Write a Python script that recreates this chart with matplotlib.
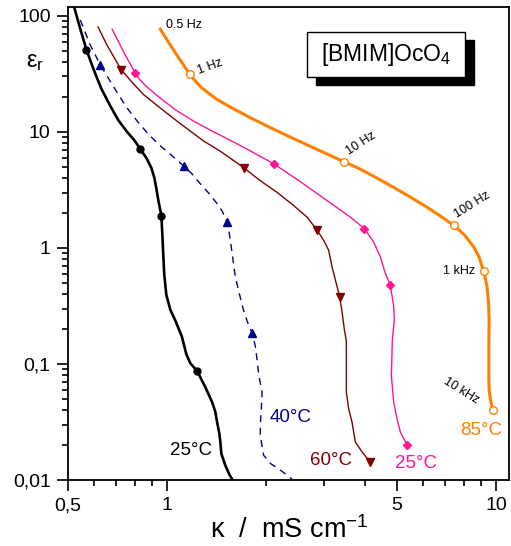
import matplotlib
matplotlib.use('Agg')
import matplotlib.pyplot as plt
from matplotlib.ticker import FixedLocator, FixedFormatter, NullFormatter, LogLocator
from matplotlib.patches import Rectangle

plt.rcParams['font.family'] = ['Liberation Sans', 'DejaVu Sans']
plt.rcParams['mathtext.fontset'] = 'custom'
plt.rcParams['mathtext.rm'] = 'Liberation Sans'
plt.rcParams['mathtext.default'] = 'regular'

# ---------------- data ----------------
# 25 °C (black)
black_x = [0.519, 0.545, 0.569, 0.597, 0.631, 0.673, 0.711, 0.757, 0.795, 0.829, 0.865, 0.896, 0.915, 0.928,
           0.941, 0.961, 0.968, 0.974, 0.981, 0.995, 1.023, 1.060, 1.109, 1.145, 1.177, 1.234, 1.307, 1.370,
           1.402, 1.419, 1.442, 1.452, 1.462, 1.504, 1.546, 1.590]
black_y = [126, 76.9, 50.9, 35.0, 23.6, 16.6, 12.6, 9.94, 8.49, 7.11, 5.96, 4.90, 4.02, 3.24,
           2.56, 1.90, 1.284, 0.866, 0.584, 0.394, 0.2935, 0.2363, 0.1725, 0.121, 0.1014, 0.0871, 0.0632, 0.0471,
           0.0387, 0.0317, 0.0251, 0.0214, 0.0169, 0.01335, 0.01119, 0.00975]
black_mx = [0.569, 0.829, 0.961, 1.234]
black_my = [50.9, 7.11, 1.90, 0.0871]

# 40 °C (navy, dashed)
blue_x = [0.545, 0.5845, 0.627, 0.673, 0.711, 0.756, 0.812, 0.879, 0.947, 1.023, 1.123, 1.194, 1.262, 1.335,
          1.419, 1.473, 1.522, 1.546, 1.568, 1.590, 1.613, 1.659, 1.706, 1.754, 1.813, 1.855, 1.877, 1.901,
          1.945, 1.935, 1.921, 1.921, 1.966, 2.061, 2.194, 2.321, 2.420]
blue_y = [91.9, 55.8, 37.7, 27.1, 21.0, 16.04, 12.35, 9.50, 7.70, 6.41, 5.09, 4.31, 3.57, 2.99,
          2.41, 2.06, 1.668, 1.336, 1.014, 0.755, 0.562, 0.402, 0.2935, 0.2317, 0.1855, 0.1425, 0.1097, 0.080,
          0.0569, 0.0410, 0.0305, 0.0241, 0.01636, 0.01389, 0.01235, 0.01097, 0.00994]
blue_mx = [0.627, 1.123, 1.522, 1.813]
blue_my = [37.7, 5.09, 1.668, 0.1855]

# 60 °C (dark red)
red_x = [0.617, 0.657, 0.726, 0.784, 0.849, 0.954, 1.073, 1.292, 1.452, 1.709, 1.921, 2.160, 2.425, 2.664,
         2.857, 2.992, 3.099, 3.173, 3.248, 3.346, 3.403, 3.459, 3.508, 3.508, 3.565, 3.650, 3.735, 3.914, 4.149]
red_y = [80.0, 55.8, 34.2, 26.6, 20.9, 16.04, 12.35, 8.33, 6.80, 4.92, 3.79, 3.01, 2.317, 1.841,
         1.425, 1.164, 0.956, 0.688, 0.530, 0.381, 0.282, 0.198, 0.1563, 0.0573, 0.0410, 0.0315, 0.0213, 0.01748, 0.01417]
red_mx = [0.726, 1.709, 2.857, 3.346, 4.149]
red_my = [34.2, 4.92, 1.425, 0.381, 0.01417]

# 25 °C (pink)
pink_x = [0.681, 0.738, 0.801, 0.829, 0.865, 0.954, 1.067, 1.205, 1.382, 1.594, 1.833, 2.119, 2.542, 3.064, 3.607,
          3.98, 4.246, 4.449, 4.608, 4.77, 4.886, 4.909, 4.84, 4.807, 4.886, 5.00, 5.119, 5.36]
pink_y = [76.5, 48.9, 31.9, 27.9, 24.6, 19.5, 15.3, 12.35, 10.04, 8.17, 6.61, 5.27, 3.72, 2.557, 1.841,
          1.465, 1.125, 0.838, 0.604, 0.480, 0.313, 0.241, 0.1626, 0.0789, 0.0468, 0.0337, 0.0259, 0.0202]
pink_mx = [0.801, 2.119, 3.98, 4.77, 5.36]
pink_my = [31.9, 5.27, 1.465, 0.480, 0.0202]

# 85 °C (orange)
orange_x = [0.954, 1.009, 1.067, 1.121, 1.171, 1.219, 1.271, 1.335, 1.412, 1.504, 1.613, 1.791, 2.061, 2.371,
            2.857, 3.459, 3.869, 4.327, 4.886, 5.49, 6.17, 6.77, 7.43, 8.01, 8.55, 8.87, 9.17, 9.39, 9.49,
            9.53, 9.51, 9.51, 9.54, 9.656, 9.77]
orange_y = [76.5, 59.6, 46.6, 37.9, 31.4, 27.4, 24.1, 21.6, 19.2, 17.25, 15.48, 13.22, 10.86, 9.01,
            7.05, 5.51, 4.77, 4.02, 3.32, 2.74, 2.24, 1.884, 1.563, 1.297, 1.02, 0.841, 0.632, 0.464, 0.335,
            0.241, 0.1425, 0.074, 0.0569, 0.0468, 0.0402]
orange_mx = [1.171, 3.459, 7.43, 9.17, 9.77]
orange_my = [31.4, 5.51, 1.563, 0.632, 0.0402]

freq_labels = ["0.5 Hz", "1 Hz", "10 Hz", "100 Hz", "1 kHz", "10 kHz"]
temp_labels = ["25°C", "40°C", "60°C", "25°C", "85°C"]

x_ticks = [0.5, 1, 5, 10]
x_tick_labels = ["0,5", "1", "5", "10"]
x_minor = [0.6, 0.7, 0.8, 0.9, 2, 3, 4, 6, 7, 8, 9]
y_ticks = [0.01, 0.1, 1, 10, 100]
y_tick_labels = ["0,01", "0,1", "1", "10", "100"]

# ---------------- figure ----------------
fig = plt.figure(figsize=(5.11, 5.46), dpi=100)
ax = fig.add_axes([68/511, 66/546, 441/511, 473/546])
ax.set_xscale('log')
ax.set_yscale('log')
ax.set_xlim(0.5, 10.95)
ax.set_ylim(0.01, 119)

c_black, c_blue, c_red, c_pink, c_orange = '#000000', '#000088', '#800000', '#FF1493', '#FF8000'

ax.plot(black_x, black_y, color=c_black, lw=1.9, zorder=3, solid_joinstyle='round')
ax.plot(black_mx, black_my, 'o', color=c_black, ms=5, zorder=4)

ax.plot(blue_x, blue_y, color=c_blue, lw=1.0, dashes=(5, 4), zorder=3)
ax.plot(blue_mx, blue_my, '^', color=c_blue, ms=6, zorder=4)

ax.plot(red_x, red_y, color=c_red, lw=1.0, zorder=3, solid_joinstyle='round')
ax.plot(red_mx, red_my, 'v', color=c_red, ms=6, zorder=4)

ax.plot(pink_x, pink_y, color=c_pink, lw=1.0, zorder=3, solid_joinstyle='round')
ax.plot(pink_mx, pink_my, 'D', color=c_pink, ms=4.5, zorder=4)

ax.plot(orange_x, orange_y, color=c_orange, lw=2.2, zorder=3, solid_joinstyle='round')
ax.plot(orange_mx, orange_my, 'o', mfc='white', mec=c_orange, mew=1.0, ms=5.5, zorder=4)

# frequency annotations
fs_f = 9
ax.text(0.99, 78, freq_labels[0], fontsize=fs_f, ha='left', va='baseline')
ax.text(1.354, 36.4, freq_labels[1], fontsize=fs_f, ha='center', va='center', rotation=20)
ax.text(3.90, 8.0, freq_labels[2], fontsize=fs_f, ha='center', va='center', rotation=33)
ax.text(8.47, 2.36, freq_labels[3], fontsize=fs_f, ha='center', va='center', rotation=32)
ax.text(8.65, 0.632, freq_labels[4], fontsize=fs_f, ha='right', va='center')
ax.text(7.84, 0.0584, freq_labels[5], fontsize=fs_f, ha='center', va='center', rotation=-32)

# temperature labels
fs_t = 13.5
ax.text(1.185, 0.0179, temp_labels[0], color=c_black, fontsize=fs_t, ha='center', va='center')
ax.text(2.371, 0.0344, temp_labels[1], color=c_blue, fontsize=fs_t, ha='center', va='center')
ax.text(3.158, 0.0147, temp_labels[2], color=c_red, fontsize=fs_t, ha='center', va='center')
ax.text(5.73, 0.0139, temp_labels[3], color=c_pink, fontsize=fs_t, ha='center', va='center')
ax.text(9.02, 0.0266, temp_labels[4], color=c_orange, fontsize=fs_t, ha='center', va='center')

# title box with shadow
ax.add_patch(Rectangle((0.562, 0.835), 0.358, 0.095, transform=ax.transAxes,
                       facecolor='black', edgecolor='black', zorder=5))
ax.add_patch(Rectangle((0.542, 0.852), 0.358, 0.095, transform=ax.transAxes,
                       facecolor='white', edgecolor='black', lw=1.0, zorder=6))
ax.text(0.721, 0.899, "[BMIM]OcO$_4$", transform=ax.transAxes, fontsize=16.5,
        ha='center', va='center', zorder=7)

# ticks
ax.xaxis.set_major_locator(FixedLocator(x_ticks))
ax.xaxis.set_major_formatter(FixedFormatter(x_tick_labels))
ax.xaxis.set_minor_locator(FixedLocator(x_minor))
ax.xaxis.set_minor_formatter(NullFormatter())
ax.yaxis.set_major_locator(FixedLocator(y_ticks))
ax.yaxis.set_major_formatter(FixedFormatter(y_tick_labels))
ax.yaxis.set_minor_locator(LogLocator(base=10, subs=[2, 3, 4, 5, 6, 7, 8, 9]))
ax.yaxis.set_minor_formatter(NullFormatter())
ax.tick_params(which='major', direction='out', length=8, width=1.2, labelsize=14, pad=4.5)
ax.tick_params(which='minor', direction='out', length=4.5, width=1.2)
ax.tick_params(which='both', top=False, right=False)
for s in ax.spines.values():
    s.set_linewidth(1.3)

# axis labels
fig.text(210/511, 1 - 538/546, "κ  /  mS cm$^{-1}$", fontsize=19.5, ha='left', va='baseline')
fig.text(26/511, 1 - 67/546, "ε$_{r}$", fontsize=17, ha='left', va='baseline')

fig.savefig('out.png', dpi=100)
